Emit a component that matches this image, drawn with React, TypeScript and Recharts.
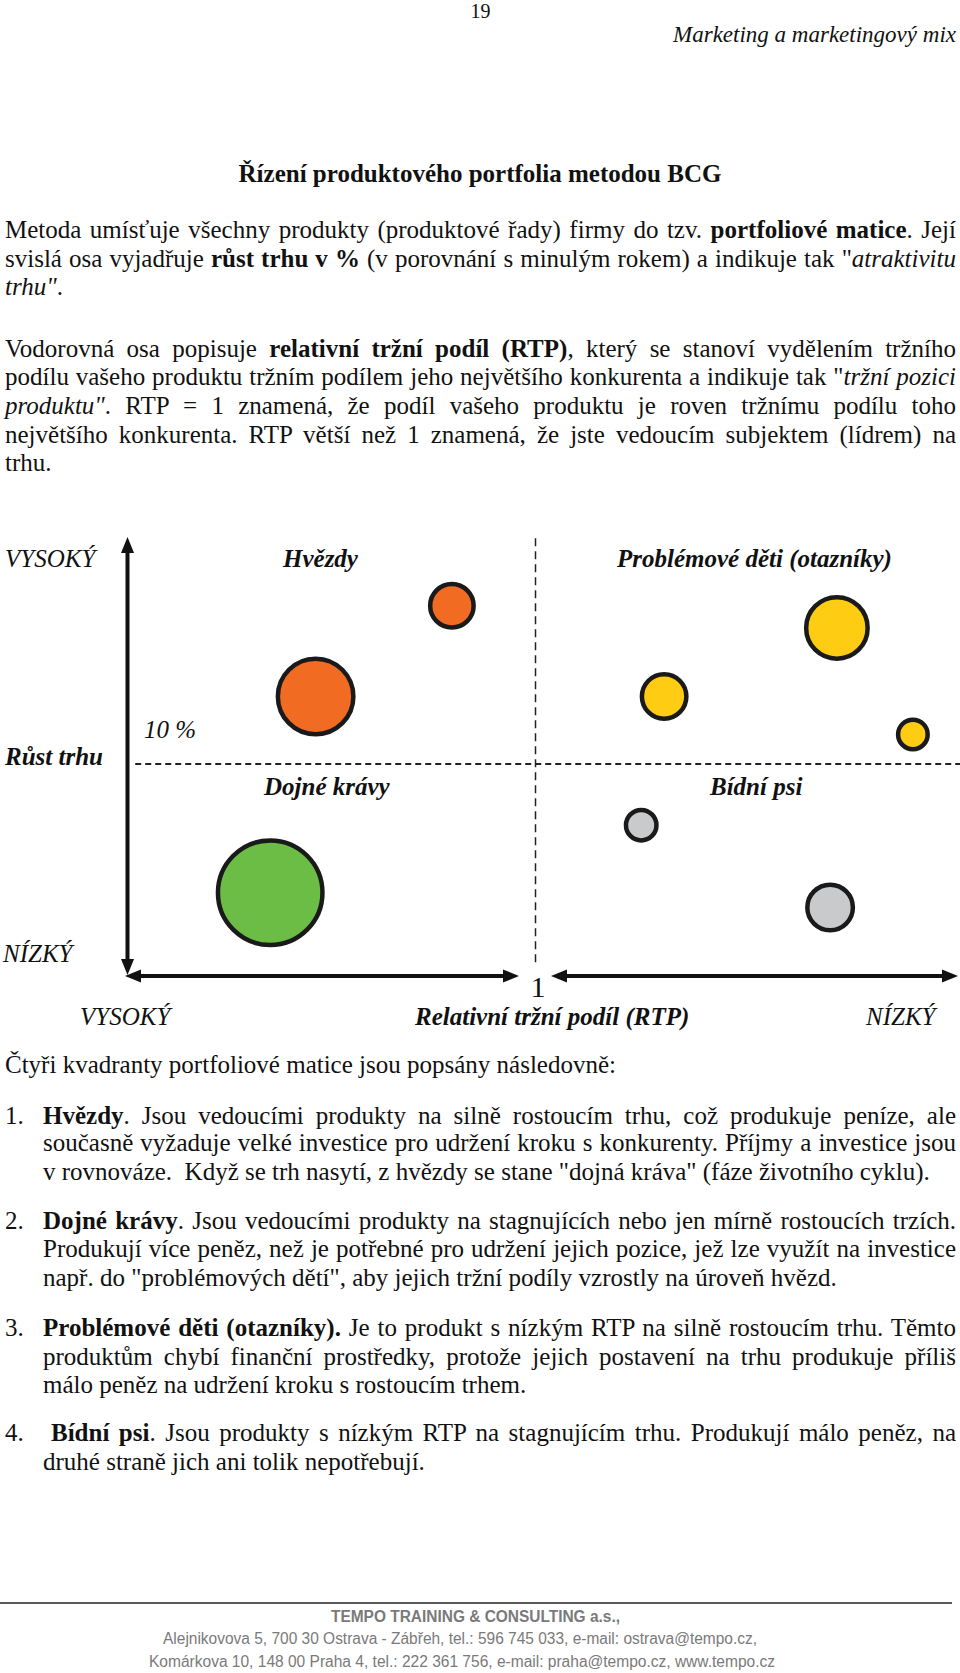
import React, { useLayoutEffect, useRef, useState } from 'react';
import { ScatterChart, Scatter, XAxis, YAxis, ZAxis, ReferenceLine } from 'recharts';

// ---------- chart data ----------
const stars = [
  { name: 'Hvězda A', rtp: 1.197, growth: 17.5, sales: 17.3 },
  { name: 'Hvězda B', rtp: 1.518, growth: 13.2, sales: 52.2 },
];
const questionMarks = [
  { name: 'Otazník A', rtp: 0.29, growth: 16.45, sales: 34.6 },
  { name: 'Otazník B', rtp: 0.697, growth: 13.2, sales: 18.1 },
  { name: 'Otazník C', rtp: 0.111, growth: 11.4, sales: 8.0 },
];
const cashCows = [{ name: 'Dojná kráva A', rtp: 1.625, growth: 3.9, sales: 100 }];
const dogs = [
  { name: 'Bídný pes A', rtp: 0.751, growth: 7.1, sales: 8.5 },
  { name: 'Bídný pes B', rtp: 0.306, growth: 3.2, sales: 19.0 },
];
const RTP_DOMAIN: [number, number] = [0, 1.96];
const GROWTH_DOMAIN: [number, number] = [0, 20];
const SALES_DOMAIN: [number, number] = [0, 100];
const RTP_THRESHOLD = 1;
const GROWTH_THRESHOLD = 10;
const DIVIDER_GROWTH_RANGE: [number, number] = [0.6, 20.75];
const DIVIDER_RTP_RANGE: [number, number] = [1.943, 0];

const quadrantLabels = ['Hvězdy', 'Problémové děti (otazníky)', 'Dojné krávy', 'Bídní psi'];
const growthLabels = ['VYSOKÝ', 'Růst trhu', 'NÍZKÝ', '10 %'];
const rtpLabels = ['VYSOKÝ', 'Relativní tržní podíl (RTP)', 'NÍZKÝ', '1'];

// ---------- page text ----------
type Seg = { t: string; b?: boolean; i?: boolean };
type Line = { x: number; y: number; w?: number; j?: boolean; pre?: boolean; segs: Seg[] };

const bodyLines: Line[] = [
  { x: 5, y: 237.5, w: 951, j: true, segs: [{ t: 'Metoda umísťuje všechny produkty (produktové řady) firmy do tzv. ' }, { t: 'portfoliové matice', b: true }, { t: '. Její' }] },
  { x: 5, y: 266.5, w: 951, j: true, segs: [{ t: 'svislá osa vyjadřuje ' }, { t: 'růst trhu v %', b: true }, { t: ' (v porovnání s minulým rokem) a indikuje tak "' }, { t: 'atraktivitu', i: true }] },
  { x: 5, y: 294.5, segs: [{ t: 'trhu"', i: true }, { t: '.' }] },

  { x: 5, y: 356.5, w: 951, j: true, segs: [{ t: 'Vodorovná osa popisuje ' }, { t: 'relativní tržní podíl (RTP)', b: true }, { t: ', který se stanoví vydělením tržního' }] },
  { x: 5, y: 385, w: 951, j: true, segs: [{ t: 'podílu vašeho produktu tržním podílem jeho největšího konkurenta a indikuje tak "' }, { t: 'tržní pozici', i: true }] },
  { x: 5, y: 413.5, w: 951, j: true, segs: [{ t: 'produktu"', i: true }, { t: '. RTP = 1 znamená, že podíl vašeho produktu je roven tržnímu podílu toho' }] },
  { x: 5, y: 442.5, w: 951, j: true, segs: [{ t: 'největšího konkurenta. RTP větší než 1 znamená, že jste vedoucím subjektem (lídrem) na' }] },
  { x: 5, y: 470.5, segs: [{ t: 'trhu.' }] },

  { x: 5, y: 1073, segs: [{ t: 'Čtyři kvadranty portfoliové matice jsou popsány následovně:' }] },

  { x: 43, y: 1123.5, w: 913, j: true, segs: [{ t: 'Hvězdy', b: true }, { t: '. Jsou vedoucími produkty na silně rostoucím trhu, což produkuje peníze, ale' }] },
  { x: 43, y: 1150.5, w: 913, j: true, segs: [{ t: 'současně vyžaduje velké investice pro udržení kroku s konkurenty. Příjmy a investice jsou' }] },
  { x: 43, y: 1179.5, pre: true, segs: [{ t: 'v rovnováze.  Když se trh nasytí, z hvězdy se stane "dojná kráva" (fáze životního cyklu).' }] },

  { x: 43, y: 1228.5, w: 913, j: true, segs: [{ t: 'Dojné krávy', b: true }, { t: '. Jsou vedoucími produkty na stagnujících nebo jen mírně rostoucích trzích.' }] },
  { x: 43, y: 1256.5, w: 913, j: true, segs: [{ t: 'Produkují více peněz, než je potřebné pro udržení jejich pozice, jež lze využít na investice' }] },
  { x: 43, y: 1285.5, segs: [{ t: 'např. do "problémových dětí", aby jejich tržní podíly vzrostly na úroveň hvězd.' }] },

  { x: 43, y: 1335.5, w: 913, j: true, segs: [{ t: 'Problémové děti (otazníky).', b: true }, { t: ' Je to produkt s nízkým RTP na silně rostoucím trhu. Těmto' }] },
  { x: 43, y: 1364.5, w: 913, j: true, segs: [{ t: 'produktům chybí finanční prostředky, protože jejich postavení na trhu produkuje příliš' }] },
  { x: 43, y: 1393, segs: [{ t: 'málo peněz na udržení kroku s rostoucím trhem.' }] },

  { x: 51, y: 1441, w: 905, j: true, segs: [{ t: 'Bídní psi', b: true }, { t: '. Jsou produkty s nízkým RTP na stagnujícím trhu. Produkují málo peněz, na' }] },
  { x: 43, y: 1469.5, segs: [{ t: 'druhé straně jich ani tolik nepotřebují.' }] },
];
const listNumbers = ['1.', '2.', '3.', '4.'];
const listNumberY = [1123.5, 1228.5, 1335.5, 1441];

const footerLines = [
  'TEMPO TRAINING & CONSULTING a.s.,',
  'Alejnikovova 5, 700 30 Ostrava - Zábřeh, tel.: 596 745 033, e-mail: ostrava@tempo.cz,',
  'Komárkova 10, 148 00 Praha 4, tel.: 222 361 756, e-mail: praha@tempo.cz, www.tempo.cz',
];

const SERIF = "'Liberation Serif', 'Times New Roman', serif";
const SANS = "'Liberation Sans', Arial, sans-serif";
const INK = '#111111';

function TextLine({ line, size = 25 }: { line: Line; size?: number }) {
  const ref = useRef<SVGTextElement>(null);
  const [adj, setAdj] = useState<{ ws?: number; tl?: number }>({});
  useLayoutEffect(() => {
    const el = ref.current;
    if (!el || !line.j || !line.w) return;
    const natural = el.getComputedTextLength();
    const txt = (el.textContent || '').replace(/\s+/g, ' ').trim();
    const spaces = (txt.match(/ /g) || []).length;
    if (natural <= line.w && spaces > 0) setAdj({ ws: (line.w - natural) / spaces });
    else setAdj({ tl: line.w });
  }, [line]);
  return (
    <text
      ref={ref}
      x={line.x}
      y={line.y}
      fontFamily={SERIF}
      fontSize={size}
      fill={INK}
      xmlSpace={line.pre ? 'preserve' : undefined}
      style={adj.ws !== undefined ? { wordSpacing: `${adj.ws}px` } : undefined}
      textLength={adj.tl}
      lengthAdjust={adj.tl ? 'spacingAndGlyphs' : undefined}
    >
      {line.segs.map((s, k) => (
        <tspan key={k} fontWeight={s.b ? 'bold' : undefined} fontStyle={s.i ? 'italic' : undefined}>
          {s.t}
        </tspan>
      ))}
    </text>
  );
}

function Arrow({ x1, y1, x2, y2 }: { x1: number; y1: number; x2: number; y2: number }) {
  const len = Math.hypot(x2 - x1, y2 - y1);
  const ux = (x2 - x1) / len;
  const uy = (y2 - y1) / len;
  const hl = 16;
  const hw = 6.5;
  const px = -uy;
  const py = ux;
  const head = (tx: number, ty: number, dx: number, dy: number) => {
    const bx = tx - dx * hl;
    const by = ty - dy * hl;
    return `${tx},${ty} ${bx + px * hw},${by + py * hw} ${bx - px * hw},${by - py * hw}`;
  };
  return (
    <g>
      <line x1={x1 + ux * (hl - 2)} y1={y1 + uy * (hl - 2)} x2={x2 - ux * (hl - 2)} y2={y2 - uy * (hl - 2)} stroke={INK} strokeWidth={4} />
      <polygon points={head(x2, y2, ux, uy)} fill={INK} />
      <polygon points={head(x1, y1, -ux, -uy)} fill={INK} />
    </g>
  );
}

const italicLabel = { fontFamily: SERIF, fontSize: 25, fontStyle: 'italic' as const, fill: INK };
const boldItalicLabel = { ...italicLabel, fontWeight: 'bold' as const };

function PageSvg() {
  return (
    <svg width={960} height={1673} style={{ position: 'absolute', left: 0, top: 0 }}>
      <text x={480.5} y={18} textAnchor="middle" fontFamily={SERIF} fontSize={20} fill={INK}>19</text>
      <text x={956} y={41.5} textAnchor="end" fontFamily={SERIF} fontSize={23} fontStyle="italic" fill={INK}>Marketing a marketingový mix</text>
      <text x={480} y={182} textAnchor="middle" fontFamily={SERIF} fontSize={25} fontWeight="bold" fill={INK}>Řízení produktového portfolia metodou BCG</text>

      {bodyLines.map((l, k) => <TextLine key={k} line={l} />)}
      {listNumbers.map((n, k) => (
        <text key={n} x={5} y={listNumberY[k]} fontFamily={SERIF} fontSize={25} fill={INK}>{n}</text>
      ))}

      {/* chart labels */}
      <text x={5} y={567} {...italicLabel}>{growthLabels[0]}</text>
      <text x={283} y={567} {...boldItalicLabel}>{quadrantLabels[0]}</text>
      <text x={617} y={567} {...boldItalicLabel}>{quadrantLabels[1]}</text>
      <text x={144} y={738} {...italicLabel}>{growthLabels[3]}</text>
      <text x={5} y={765} {...boldItalicLabel}>{growthLabels[1]}</text>
      <text x={264} y={795} {...boldItalicLabel}>{quadrantLabels[2]}</text>
      <text x={710} y={795} {...boldItalicLabel}>{quadrantLabels[3]}</text>
      <text x={3} y={962} {...italicLabel}>{growthLabels[2]}</text>
      <text x={80} y={1025} {...italicLabel}>{rtpLabels[0]}</text>
      <text x={415} y={1025} {...boldItalicLabel}>{rtpLabels[1]}</text>
      <text x={866} y={1025} {...italicLabel}>{rtpLabels[2]}</text>
      <text x={538} y={997} textAnchor="middle" fontFamily={SERIF} fontSize={30} fill={INK}>{rtpLabels[3]}</text>

      {/* axes arrows */}
      <Arrow x1={127.5} y1={975} x2={127.5} y2={537} />
      <Arrow x1={125} y1={976} x2={519} y2={976} />
      <Arrow x1={551} y1={976} x2={958} y2={976} />

      {/* footer */}
      <line x1={0} y1={1603} x2={952} y2={1603} stroke="#222" strokeWidth={1.5} />
      <text x={331} y={1622} fontFamily={SANS} fontSize={16} fontWeight="bold" fill="#7a7a7a" textLength={289} lengthAdjust="spacingAndGlyphs">{footerLines[0]}</text>
      <text x={163} y={1644} fontFamily={SANS} fontSize={16} fill="#7a7a7a" textLength={594} lengthAdjust="spacingAndGlyphs">{footerLines[1]}</text>
      <text x={149} y={1667} fontFamily={SANS} fontSize={16} fill="#7a7a7a" textLength={626} lengthAdjust="spacingAndGlyphs">{footerLines[2]}</text>
    </svg>
  );
}

const CHART_TOP = 520;
const OUTLINE = '#1a1a1a';

function BcgChart() {
  return (
    <div style={{ position: 'absolute', left: 0, top: CHART_TOP, width: 960, height: 520 }}>
      <ScatterChart width={960} height={520} margin={{ top: 33, right: 0, bottom: 65, left: 128 }}>
        <XAxis type="number" dataKey="rtp" domain={RTP_DOMAIN} reversed hide />
        <YAxis type="number" dataKey="growth" domain={GROWTH_DOMAIN} hide />
        <ZAxis type="number" dataKey="sales" domain={SALES_DOMAIN} range={[0, 8577]} />
        <ReferenceLine
          segment={[{ x: DIVIDER_RTP_RANGE[0], y: GROWTH_THRESHOLD }, { x: DIVIDER_RTP_RANGE[1], y: GROWTH_THRESHOLD }]}
          ifOverflow="visible"
          stroke="#222"
          strokeWidth={2}
          strokeDasharray="6 4"
        />
        <ReferenceLine
          segment={[{ x: RTP_THRESHOLD, y: DIVIDER_GROWTH_RANGE[0] }, { x: RTP_THRESHOLD, y: DIVIDER_GROWTH_RANGE[1] }]}
          ifOverflow="visible"
          stroke="#222"
          strokeWidth={1.5}
          strokeDasharray="8 5"
        />
        <Scatter name={quadrantLabels[0]} data={stars} fill="#F26B22" stroke={OUTLINE} strokeWidth={4.5} isAnimationActive={false} />
        <Scatter name={quadrantLabels[1]} data={questionMarks} fill="#FFCC14" stroke={OUTLINE} strokeWidth={4.5} isAnimationActive={false} />
        <Scatter name={quadrantLabels[2]} data={cashCows} fill="#6BBD45" stroke={OUTLINE} strokeWidth={4.5} isAnimationActive={false} />
        <Scatter name={quadrantLabels[3]} data={dogs} fill="#C9CACB" stroke={OUTLINE} strokeWidth={4.5} isAnimationActive={false} />
      </ScatterChart>
    </div>
  );
}

export default function App() {
  return (
    <div style={{ position: 'absolute', left: 0, top: 0, width: 960, height: 1673, background: '#fff', overflow: 'hidden' }}>
      <PageSvg />
      <BcgChart />
    </div>
  );
}
